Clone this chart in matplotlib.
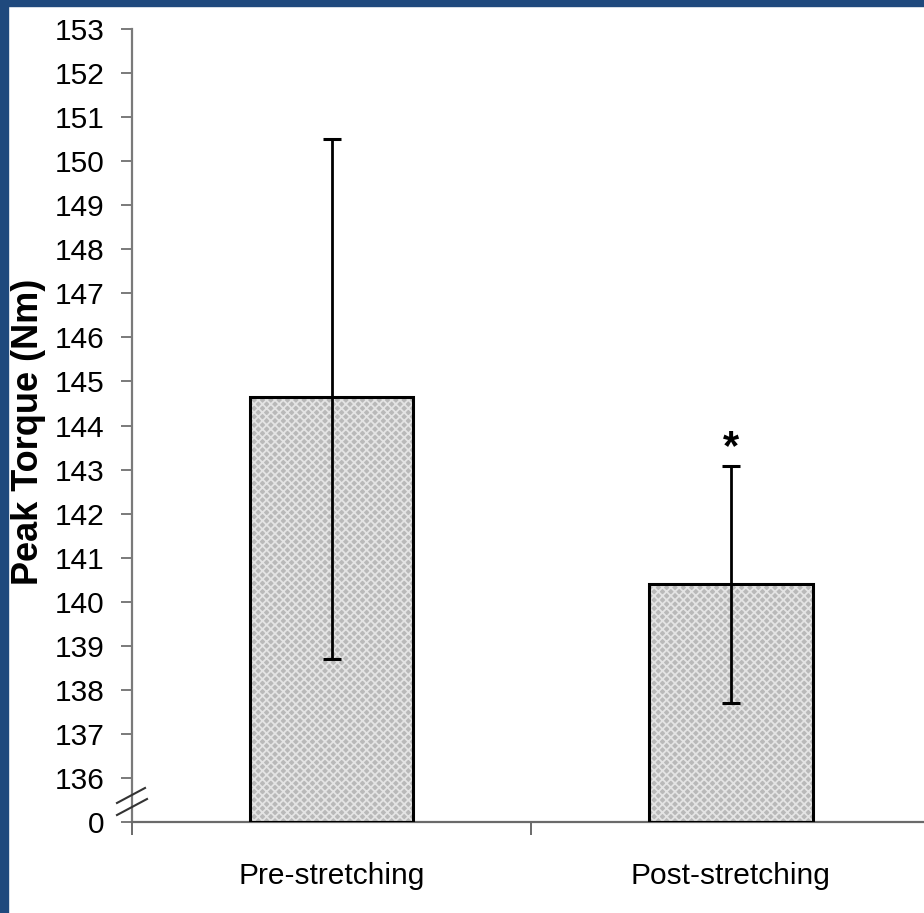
import matplotlib
matplotlib.use("Agg")
import matplotlib.pyplot as plt
from matplotlib.patches import Rectangle
import numpy as np

# ---- data ----
categories = ["Pre-stretching", "Post-stretching"]
means = [144.65, 140.4]
err_up = [5.85, 2.67]
err_down = [5.95, 2.70]
yticks = list(range(136, 154))
ytick_labels = [str(v) for v in yticks]
axis_floor = 135          # position where the broken axis shows "0"
floor_label = "0"
sig_marks = ["", "*"]

plt.rcParams['font.family'] = ['Liberation Sans', 'DejaVu Sans']
plt.rcParams['hatch.linewidth'] = 1.3

fig = plt.figure(figsize=(9.24, 9.13), dpi=100)
fig.patch.set_facecolor('white')
ax = fig.add_axes([132/924, 91/913, 798.5/924, 793/913])

x = np.arange(len(categories))
heights = np.array(means) - axis_floor
# textured fill
ax.bar(x, heights, width=0.41, bottom=axis_floor, color='#b9b9b9',
       hatch='xxxx', edgecolor='#e4e4e4', linewidth=0, zorder=2)
# outline
ax.bar(x, heights, width=0.41, bottom=axis_floor, fill=False,
       edgecolor='black', linewidth=2.2, zorder=3)
ax.errorbar(x, means, yerr=[err_down, err_up], fmt='none', ecolor='black',
            elinewidth=2.0, capsize=6.5, capthick=2.2, zorder=4)
for xi, m, eu, s in zip(x, means, err_up, sig_marks):
    if s:
        ax.annotate(s, (xi, m + eu), xytext=(0, -1), textcoords='offset points',
                    ha='center', va='bottom', fontsize=30, fontweight='bold')

ax.set_xlim(-0.5, 1.5)
ax.set_ylim(axis_floor, 153)
ax.set_yticks([axis_floor] + yticks)
ax.set_yticklabels([floor_label] + ytick_labels)
ax.set_xticks(x)
ax.set_xticklabels(categories)
ax.set_xticks([-0.5, 0.5, 1.5], minor=True)

for sp in ['top', 'right']:
    ax.spines[sp].set_visible(False)
ax.spines['left'].set_color('#7a7a7a')
ax.spines['left'].set_linewidth(1.6)
ax.spines['bottom'].set_color('#6a6a6a')
ax.spines['bottom'].set_linewidth(1.6)

ax.tick_params(axis='y', direction='out', length=8, width=1.4, color='#7a7a7a',
               labelsize=21.5, pad=12)
ax.tick_params(axis='x', which='major', length=0, labelsize=21.5, pad=29)
ax.tick_params(axis='x', which='minor', direction='out', length=9, width=1.4,
               color='#6a6a6a')

fig.text(29/924, 1 - 432/913, "Peak Torque (Nm)", rotation=90, ha='center',
         va='center', fontsize=26, fontweight='bold')

# axis break marks (decoration, axes coords)
ax.plot([-0.0188, 0.0163], [0.024, 0.0429], transform=ax.transAxes,
        color='#333333', lw=1.5, clip_on=False, zorder=5)
ax.plot([-0.0188, 0.0188], [0.0088, 0.029], transform=ax.transAxes,
        color='#333333', lw=1.5, clip_on=False, zorder=5)

# blue frame (top & left)
fig.patches.append(Rectangle((0, 1 - 6/913), 1, 6/913, transform=fig.transFigure,
                             color='#1f497d', zorder=10))
fig.patches.append(Rectangle((0, 0), 8/924, 1, transform=fig.transFigure,
                             color='#1f497d', zorder=10))

fig.savefig("out.png", dpi=100, facecolor='white')
